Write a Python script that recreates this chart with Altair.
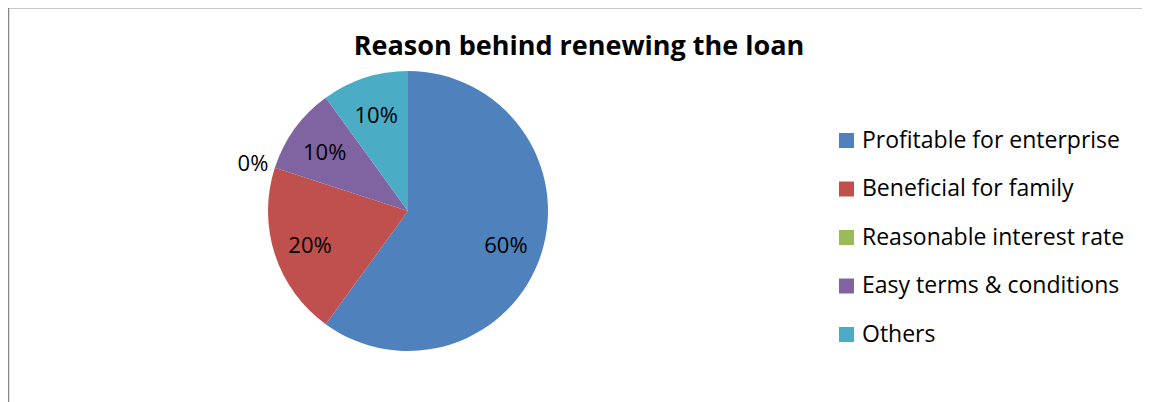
import altair as alt
import pandas as pd

categories = ["Profitable for enterprise", "Beneficial for family",
              "Reasonable interest rate", "Easy terms & conditions", "Others"]
shares = [60, 20, 0, 10, 10]
labels = ["60%", "20%", "0%", "10%", "10%"]
colors = ["#4F81BD", "#C0504D", "#9BBB59", "#8064A2", "#4BACC6"]
title_text = "Reason behind renewing the loan"

df = pd.DataFrame({"category": categories, "share": shares, "label": labels,
                   "idx": list(range(len(categories)))})
tdf = pd.DataFrame({"t": [title_text]})

W, H = 1134, 394
CX, CY, R = 400, 203, 140
FONT = "Open Sans"

pie = alt.Chart(df).mark_arc(outerRadius=R).encode(
    theta=alt.Theta("share:Q", stack=True),
    order=alt.Order("idx:Q"),
    x=alt.value(CX), y=alt.value(CY),
    color=alt.Color(
        "category:N", sort=categories,
        scale=alt.Scale(domain=categories, range=colors),
        legend=alt.Legend(
            orient="none", legendX=827, legendY=121, title=None,
            symbolType="square", symbolSize=225, symbolStrokeWidth=0,
            symbolOpacity=1, labelFont=FONT, labelFontSize=23,
            labelColor="#000000", labelOffset=4, rowPadding=24.5,
            padding=0, labelLimit=400,
        ),
    ),
)

# label angles: middle of each slice (radians, clockwise from 12 o'clock)
text = alt.Chart(df).transform_joinaggregate(
    total="sum(share)"
).transform_window(
    cum="sum(share)", sort=[alt.SortField("idx")],
    frame=[None, 0]
).transform_calculate(
    mid="(datum.cum - datum.share / 2) / datum.total * 2 * PI",
    r="datum.share == 0 ? 163 : 103",
).mark_text(font=FONT, fontSize=22, color="#000000",
            baseline="middle", align="center", dy=3).encode(
    theta=alt.Theta("mid:Q", scale=None),
    radius=alt.Radius("r:Q", scale=None),
    x=alt.value(CX), y=alt.value(CY),
    text="label:N",
)

title = alt.Chart(tdf).mark_text(font=FONT, fontSize=27, fontWeight="bold",
                                 color="#000000", align="center",
                                 baseline="alphabetic").encode(
    x=alt.value(571), y=alt.value(47), text="t:N")

border = alt.Chart(tdf).mark_rect(fillOpacity=0, stroke="#878787",
                                  strokeWidth=2.5).encode(
    x=alt.value(0), y=alt.value(-1), x2=alt.value(W + 30), y2=alt.value(H + 30))

chart = alt.layer(border, pie, text, title).properties(
    width=W, height=H, autosize="none", padding=0,
).configure_view(stroke=None).configure(background="white")

chart.save("out.html", embed_options={"renderer": "svg", "actions": False})
